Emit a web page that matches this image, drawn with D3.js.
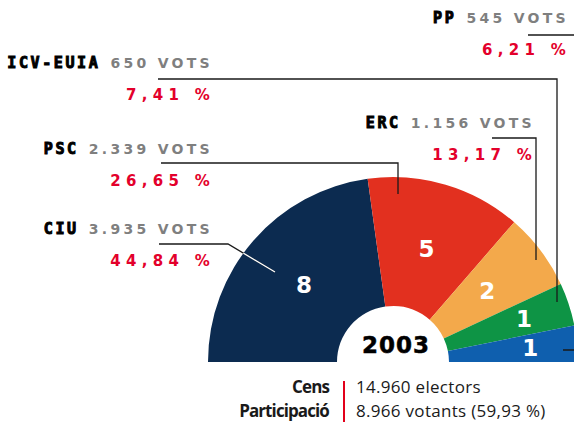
<!DOCTYPE html>
<html>
<head>
<meta charset="utf-8">
<script src="https://cdn.jsdelivr.net/npm/d3@7"></script>
<style>
  html, body { margin: 0; padding: 0; background: #fff; }
  svg { display: block; }
</style>
</head>
<body>
<div class="canvas"></div>
<script>
// election results 2003
const parties = ['CIU', 'PSC', 'ERC', 'ICV-EUIA', 'PP']
const votes = [3935, 2339, 1156, 650, 545]
const voteLabels = ['3.935', '2.339', '1.156', '650', '545']
const percents = ['44,84', '26,65', '13,17', '7,41', '6,21']
const seats = [8, 5, 2, 1, 1]
const colors = ['#0c2b50', '#e2301f', '#f3a94b', '#0e9445', '#0f5fae']
const year = '2003'
const censusLabels = ['Cens', 'Participació']
const censusValues = ['14.960 electors', '8.966 votants (59,93 %)']

const dims = { width: 574, height: 423, outer: 185, inner: 56 }
const center = { x: 393, y: 362 }

// where each party's caption sits (right edge, baseline) and its leader line
const labelPos = [
  { x: 210, y: 234, line: [[159, 244], [228, 244], [275, 272]] },
  { x: 210, y: 154, line: [[161, 163], [398, 163], [398, 194]] },
  { x: 532, y: 128, line: [[492, 138], [536, 138], [536, 260]] },
  { x: 210, y: 68, line: [[158, 79], [557, 79], [557, 302]] },
  { x: 566, y: 23, line: [[528, 35], [600, 35], [600, 350], [563, 350]] }
]

const data = parties.map((name, i) => ({
  name,
  votes: votes[i],
  voteLabel: voteLabels[i],
  percent: percents[i],
  seats: seats[i],
  color: colors[i],
  pos: labelPos[i]
}))

const svg = d3
  .select('.canvas')
  .append('svg')
  .attr('width', dims.width)
  .attr('height', dims.height)

const graph = svg
  .append('g')
  .attr('transform', `translate(${center.x}, ${center.y})`)

//* half donut, angles follow the vote counts
const pie = d3
  .pie()
  .sort(null)
  .value(d => d.votes)
  .startAngle(-Math.PI / 2)
  .endAngle(Math.PI / 2)

const arcPath = d3
  .arc()
  .outerRadius(dims.outer)
  .innerRadius(dims.inner)

const arcs = pie(data)

graph
  .selectAll('path.arc')
  .data(arcs)
  .enter()
  .append('path')
  .attr('class', 'arc')
  .attr('d', arcPath)
  .attr('fill', d => d.data.color)

// clip for the white part of the CiU leader line
svg
  .append('clipPath')
  .attr('id', 'clip-ciu')
  .append('path')
  .attr('transform', `translate(${center.x}, ${center.y})`)
  .attr('d', arcPath(arcs[0]))

//? seat counts
const seatArc = d => {
  const r = d.data.votes / d3.sum(votes) > 0.1 ? 118 : 138
  return d3.arc().innerRadius(r).outerRadius(r).centroid(d)
}

graph
  .selectAll('text.seat')
  .data(arcs)
  .enter()
  .append('text')
  .attr('class', 'seat')
  .attr('x', d => seatArc(d)[0])
  .attr('y', d => seatArc(d)[1])
  .attr('text-anchor', 'middle')
  .attr('dominant-baseline', 'central')
  .attr('fill', '#fff')
  .attr('font-family', '"DejaVu Sans", sans-serif')
  .attr('font-weight', 'bold')
  .attr('font-size', 23)
  .text(d => d.data.seats)

graph
  .append('text')
  .attr('x', 3)
  .attr('y', -9)
  .attr('text-anchor', 'middle')
  .attr('font-family', '"DejaVu Sans", sans-serif')
  .attr('font-weight', 'bold')
  .attr('font-size', 23)
  .attr('letter-spacing', 1)
  .attr('fill', '#000')
  .attr('stroke', '#000')
  .attr('stroke-width', 0.5)
  .text(year)

//? leader lines
const line = d3.line()

svg
  .selectAll('path.leader')
  .data(data)
  .enter()
  .append('path')
  .attr('class', 'leader')
  .attr('d', d => line(d.pos.line))
  .attr('fill', 'none')
  .attr('stroke', '#1a1a1a')
  .attr('stroke-width', 1.3)

svg
  .append('path')
  .attr('d', line(data[0].pos.line))
  .attr('clip-path', 'url(#clip-ciu)')
  .attr('fill', 'none')
  .attr('stroke', '#fff')
  .attr('stroke-width', 1.3)

//? party captions
const caption = svg
  .selectAll('g.caption')
  .data(data)
  .enter()
  .append('g')
  .attr('class', 'caption')

const head = caption
  .append('text')
  .attr('x', d => d.pos.x + 3)
  .attr('y', d => d.pos.y)
  .attr('text-anchor', 'end')
  .attr('font-weight', 'bold')

head
  .append('tspan')
  .attr('font-family', '"DejaVu Sans Mono", monospace')
  .attr('font-size', 15)
  .attr('letter-spacing', 2.6)
  .attr('fill', '#000')
  .attr('stroke', '#000')
  .attr('stroke-width', 1)
  .text(d => d.name)

head
  .append('tspan')
  .attr('dx', 10)
  .attr('font-family', '"DejaVu Sans", sans-serif')
  .attr('font-size', 14)
  .attr('letter-spacing', 3.3)
  .attr('fill', '#7f7f7f')
  .text(d => `${d.voteLabel} VOTS`)

caption
  .append('text')
  .attr('x', d => d.pos.x + 5)
  .attr('y', d => d.pos.y + 32)
  .attr('text-anchor', 'end')
  .attr('font-family', '"DejaVu Sans", sans-serif')
  .attr('font-weight', 'bold')
  .attr('font-size', 15)
  .attr('letter-spacing', 5.3)
  .attr('fill', '#e3002b')
  .text(d => `${d.percent} %`)

//? census block
const census = svg.append('g')

census
  .selectAll('text.clabel')
  .data(censusLabels)
  .enter()
  .append('text')
  .attr('class', 'clabel')
  .attr('x', 329)
  .attr('y', (d, i) => 393 + i * 24)
  .attr('text-anchor', 'end')
  .attr('font-family', '"Open Sans", sans-serif')
  .attr('font-weight', 'bold')
  .attr('font-size', 17)
  .attr('letter-spacing', -0.9)
  .attr('fill', '#1a1a1a')
  .text(d => d)

census
  .selectAll('text.cvalue')
  .data(censusValues)
  .enter()
  .append('text')
  .attr('class', 'cvalue')
  .attr('x', 356)
  .attr('y', (d, i) => 393 + i * 24)
  .attr('font-family', '"Open Sans", sans-serif')
  .attr('font-size', 17)
  .attr('letter-spacing', 0.3)
  .attr('fill', '#1a1a1a')
  .text(d => d)

census
  .append('line')
  .attr('x1', 344)
  .attr('x2', 344)
  .attr('y1', 381)
  .attr('y2', 422)
  .attr('stroke', '#e2001a')
  .attr('stroke-width', 2)
</script>
</body>
</html>
